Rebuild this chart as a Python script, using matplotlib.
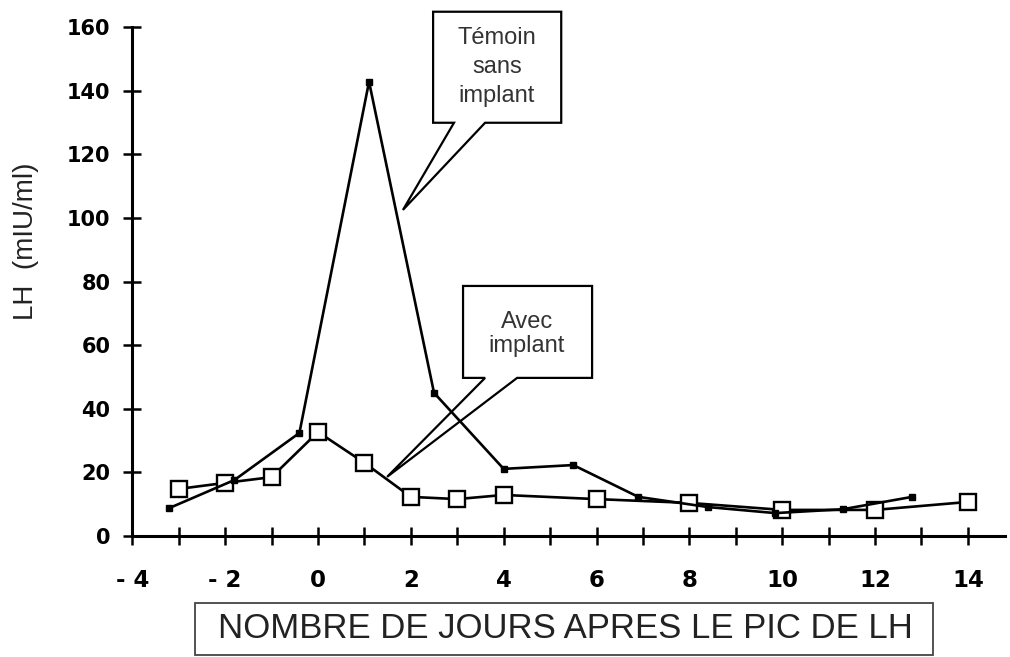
import matplotlib
matplotlib.use("Agg")
import matplotlib.pyplot as plt
from matplotlib.patches import Polygon, Rectangle

# ---- data ----
days_avec = [-3, -2, -1, 0, 1, 2, 3, 4, 6, 8, 10, 12, 14]
lh_avec = [14.8, 16.7, 18.5, 32.7, 23.0, 12.3, 11.6, 12.9, 11.6, 10.4, 8.2, 8.2, 10.7]

days_temoin = [-3.2, -1.8, -0.4, 1.1, 2.5, 4.0, 5.5, 6.9, 8.4, 9.85, 11.3, 12.8]
lh_temoin = [8.8, 17.6, 32.4, 142.8, 45.0, 21.1, 22.3, 12.3, 9.1, 7.2, 8.4, 12.3]

xtick_pos = [-4, -2, 0, 2, 4, 6, 8, 10, 12, 14]
xtick_labels = ["- 4", "- 2", "0", "2", "4", "6", "8", "10", "12", "14"]
ytick_pos = [0, 20, 40, 60, 80, 100, 120, 140, 160]
ytick_labels = ["0", "20", "40", "60", "80", "100", "120", "140", "160"]

label_temoin = "Témoin\nsans\nimplant"
label_avec = "Avec\nimplant"
xlabel = "NOMBRE DE JOURS APRES LE PIC DE LH"
ylabel = "LH  (mIU/ml)"

W, H = 1010, 657
fig = plt.figure(figsize=(W / 100, H / 100), dpi=100)
ax = fig.add_axes([132.3 / W, 121 / H, (1005 - 132.3) / W, 509 / H])

ax.set_xlim(-4, 14.8)
ax.set_ylim(0, 160)

for s in ["top", "right"]:
    ax.spines[s].set_visible(False)
for s in ["left", "bottom"]:
    ax.spines[s].set_linewidth(2.2)
    ax.spines[s].set_color("black")

# all integer days as tick marks, labels on even days
ax.set_xticks(range(-4, 15), minor=False)
ax.set_xticklabels([xtick_labels[xtick_pos.index(d)] if d in xtick_pos else "" for d in range(-4, 15)])
ax.set_yticks(ytick_pos)
ax.set_yticklabels(ytick_labels)

ax.tick_params(axis="x", direction="inout", length=13, width=1.8, pad=17,
               labelsize=16.5, colors="black")
ax.tick_params(axis="y", direction="inout", length=13.5, width=1.8, pad=9,
               labelsize=15, colors="black")
for t in ax.get_xticklabels():
    t.set_fontfamily("DejaVu Sans")
    t.set_fontweight("bold")
for t in ax.get_yticklabels():
    t.set_fontfamily("DejaVu Sans")
    t.set_fontweight("bold")

# ---- series ----
ax.plot(days_avec, lh_avec, color="black", lw=1.9, marker="s", markersize=11,
        markerfacecolor="white", markeredgecolor="black", markeredgewidth=1.7,
        zorder=3, clip_on=False)
ax.plot(days_temoin, lh_temoin, color="black", lw=1.9, marker="s", markersize=4.5,
        markerfacecolor="black", markeredgecolor="black", zorder=4, clip_on=False)

# ---- callouts ----
callout_temoin = [(2.48, 164.8), (5.24, 164.8), (5.24, 129.9), (3.60, 129.9),
                  (1.83, 102.5), (2.93, 129.9), (2.48, 129.9)]
callout_avec = [(3.125, 78.6), (5.905, 78.6), (5.905, 49.7), (4.29, 49.7),
                (1.49, 18.6), (3.60, 49.7), (3.125, 49.7)]
for verts in (callout_temoin, callout_avec):
    ax.add_patch(Polygon(verts, closed=True, facecolor="white", edgecolor="black",
                         lw=1.6, zorder=2, clip_on=False, joinstyle="miter"))

ax.text(3.855, 147.5, label_temoin, ha="center", va="center", fontsize=17,
        family="Liberation Sans", color="#333333", linespacing=1.42, zorder=5)
ax.text(4.5, 63.4, label_avec, ha="center", va="center", fontsize=17,
        family="Liberation Sans", color="#333333", linespacing=1.14, zorder=5)

# ---- axis labels ----
ax.set_ylabel(ylabel, fontsize=20, family="Liberation Sans", color="#222222")
ax.yaxis.label.set_va("center")
ax.yaxis.set_label_coords((26 - 132.3) / (1005 - 132.3), (536 - 241) / 509)

fig.patches.append(Rectangle((195 / W, 2 / H), (933 - 195) / W, 52 / H,
                             transform=fig.transFigure, facecolor="white",
                             edgecolor="#444444", lw=1.3))
fig.text(565 / W, (657 - 629) / H, xlabel, ha="center", va="center",
         fontsize=25, family="Liberation Sans", color="#222222")

fig.savefig("out.png", dpi=100)
